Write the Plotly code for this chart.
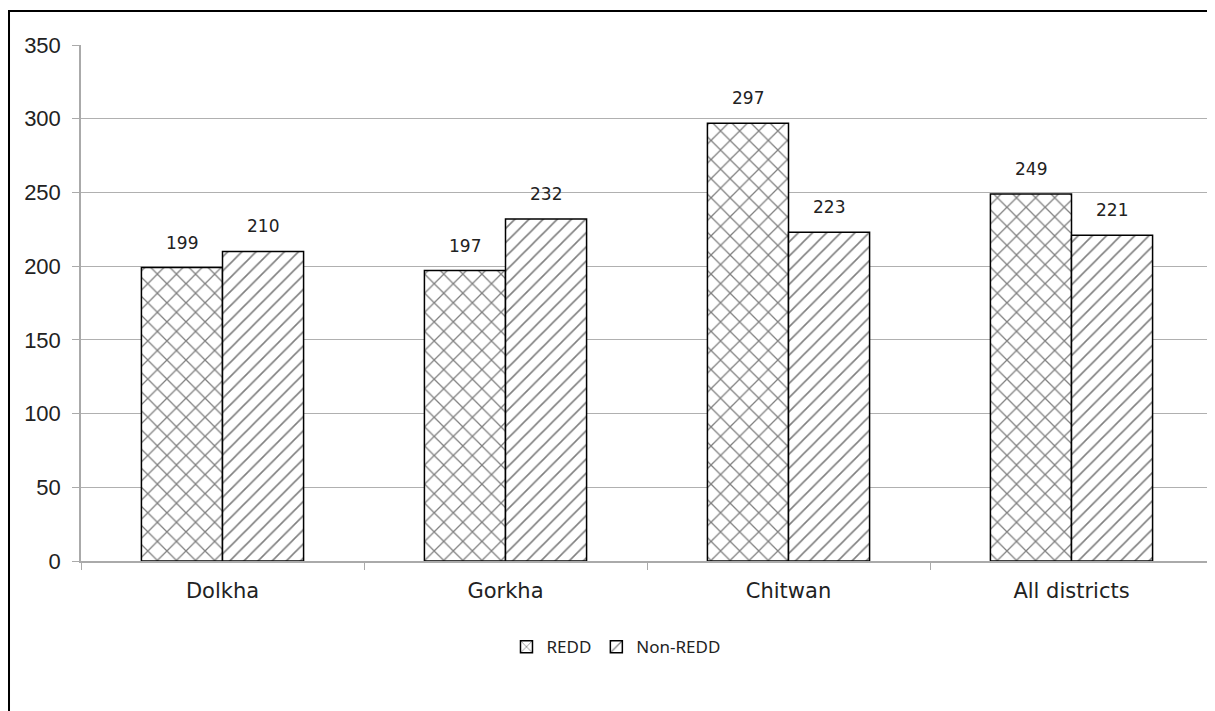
import plotly.graph_objects as go

categories = ["Dolkha", "Gorkha", "Chitwan", "All districts"]
redd = [199, 197, 297, 249]
non_redd = [210, 232, 223, 221]
y_ticks = [0, 50, 100, 150, 200, 250, 300, 350]

fig = go.Figure()
fig.add_trace(go.Bar(
    name="REDD", x=categories, y=redd,
    marker=dict(color="white", line=dict(color="black", width=1.5),
                pattern=dict(shape="x", fgcolor="black", bgcolor="white", size=13.5, solidity=0.18)),
))
fig.add_trace(go.Bar(
    name="Non-REDD", x=categories, y=non_redd,
    marker=dict(color="white", line=dict(color="black", width=1.5),
                pattern=dict(shape="/", fgcolor="black", bgcolor="white", size=10, solidity=0.16)),
))

annotations = []
for cat, v in zip(categories, redd):
    annotations.append(dict(x=cat, y=v, xref="x", yref="y", text=str(v), showarrow=False,
                            xshift=-40.5, yshift=25, font=dict(family="DejaVu Sans", size=17, color="#222")))
for cat, v in zip(categories, non_redd):
    annotations.append(dict(x=cat, y=v, xref="x", yref="y", text=str(v), showarrow=False,
                            xshift=40.5, yshift=25, font=dict(family="DejaVu Sans", size=17, color="#222")))

fig.update_layout(
    width=1207, height=703,
    margin=dict(l=73, r=2, t=37, b=150),
    paper_bgcolor="white", plot_bgcolor="white",
    barmode="group", bargap=0.427, bargroupgap=0,
    showlegend=True,
    legend=dict(orientation="h", x=0.4726, xanchor="center", y=-0.167, yanchor="middle",
                font=dict(family="Noto Sans", size=17, color="#222"), traceorder="normal"),
    annotations=annotations,
    shapes=[dict(type="rect", xref="paper", yref="paper", x0=-0.0636, x1=1.2, y0=-0.6, y1=1.0659,
                 line=dict(color="black", width=2), fillcolor="rgba(0,0,0,0)", layer="below")],
    xaxis=dict(showline=True, linecolor="#aaaaaa", linewidth=1.5, ticks="outside", tickson="boundaries",
               ticklen=7, tickcolor="#aaaaaa", tickfont=dict(family="DejaVu Sans", size=21, color="#222"),
               showgrid=False, ticklabelstandoff=10),
    yaxis=dict(range=[0, 350], tickvals=y_ticks, showline=True, linecolor="#aaaaaa", linewidth=1.5,
               ticks="outside", ticklen=7, tickcolor="#aaaaaa", showgrid=True, gridcolor="#b0b0b0",
               gridwidth=1.2, zeroline=False,
               tickfont=dict(family="Liberation Sans", size=22, color="#222"), ticklabelstandoff=7),
)

fig.write_html("out.html")
